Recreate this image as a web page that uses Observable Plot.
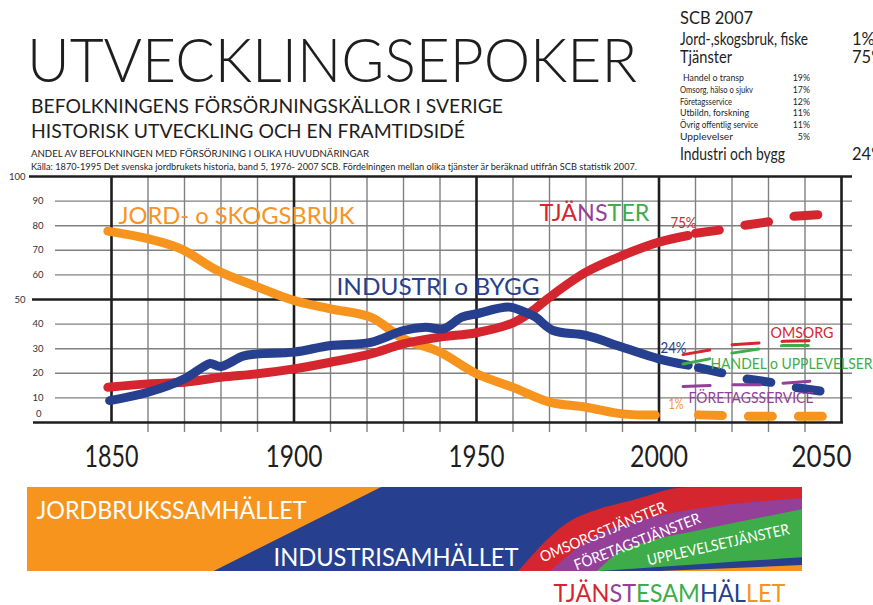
<!DOCTYPE html>
<html><head><meta charset="utf-8">
<script src="https://cdn.jsdelivr.net/npm/d3@7"></script>
<script src="https://cdn.jsdelivr.net/npm/@observablehq/plot@0.6"></script>
<style>
html,body{margin:0;padding:0;background:#fff;}
body{width:873px;height:605px;position:relative;overflow:hidden;}
.layer{position:absolute;left:0;}
svg{overflow:visible;}
</style></head>
<body>
<div id="header" class="layer" style="top:0"></div>
<div id="chart" class="layer" style="top:140px"></div>
<div id="band" class="layer" style="top:480px"></div>
<script>
const FONT = "Lato, 'Open Sans', sans-serif";
const ORANGE="#F7941D", BLUE="#263F8E", RED="#D5262F", PURPLE="#943F98", GREEN="#3EAD49", GRID="#808080", INK="#1e1e1e";

// ---------- data ----------
const agriYears  = [1849, 1860, 1869, 1879, 1889, 1900, 1910, 1921, 1930, 1940, 1950, 1960, 1970, 1980, 1990, 1999];
const agriShares = [77.8, 74.7, 70.6, 61.8, 55.7, 49.6, 46.2, 42.8, 34.0, 28.6, 19.8, 14.3, 8.3, 6.2, 3.5, 3.0];
const agriForecastYears  = [2010.8, 2025, 2045];
const agriForecastShares = [3.1, 2.5, 2.5];

const indYears  = [1849.5, 1860, 1870, 1875, 1877, 1880, 1886, 1890, 1900, 1910, 1921, 1930, 1936, 1941, 1946, 1950, 1959, 1963, 1966, 1971, 1980, 1990, 2000, 2008];
const indShares = [8.9, 12.3, 17.8, 22.5, 24.0, 22.8, 27.0, 27.9, 28.6, 31.3, 32.6, 37.4, 38.7, 38.1, 42.8, 44.2, 46.9, 45.0, 43.0, 37.4, 35.4, 30.6, 25.9, 23.3];
const indForecastYears  = [2010.8, 2018.4, 2023.4, 2032.2, 2037, 2045];
const indForecastShares = [22.3, 19.8, 17.8, 16.0, 14.3, 12.6];

const servYears  = [1849, 1860, 1870, 1880, 1890, 1900, 1910, 1921, 1930, 1940, 1950, 1960, 1965, 1970, 1980, 1990, 2000, 2008];
const servShares = [14.3, 15.7, 16.4, 18.4, 19.8, 21.8, 24.5, 27.9, 32.0, 34.7, 36.5, 40.5, 45.0, 50.9, 61.1, 67.9, 73.3, 76.0];
const servForecastYears  = [2010, 2017, 2023, 2031, 2036, 2045];
const servForecastShares = [76.9, 78.3, 80.1, 81.8, 83.7, 84.6];

const subYears = [2006.6, 2014, 2020, 2028, 2034, 2041.8];
const careShares     = [27.6, 29.5, 31.6, 32.4, 33.0, 33.3];
const tradeShares    = [23.8, 25.9, 28.2, 30.0, 31.3, 31.3];
const businessShares = [14.6, 15.0, 15.3, 15.3, 16.0, 16.8];

const yTicks = [100, 90, 80, 70, 60, 50, 40, 30, 20, 10, 0];
const minorY = [10, 20, 30, 40, 60, 70, 80, 90];
const majorX = [1850, 1900, 1950, 2000, 2050];
const minorX = d3.range(1860, 2050, 10).filter(d => d % 50 !== 0);
const xLabels = ["1850", "1900", "1950", "2000", "2050"];

const scbMainNames  = ["Jord-,skogsbruk, fiske", "Tjänster"];
const scbMainShares = ["1%", "75%"];
const serviceNames  = ["Handel o transp", "Omsorg, hälso o sjukv", "Företagsservice", "Utbildn, forskning", "Övrig offentlig service", "Upplevelser"];
const serviceShares = ["19%", "17%", "12%", "11%", "11%", "5%"];
const industryName = "Industri och bygg", industryShare = "24%";

// band shape edges (x: % of band length, y: % of band height)
const agriBandEdge   = [{x: 24.1, y: 0}, {x: 45.7, y: 100}];
const careBandEdge   = [{x: 63.4, y: 0}, {x: 70.3, y: 60.7}, {x: 72.2, y: 68.7}, {x: 78.2, y: 84.5}, {x: 85.1, y: 99.6}, {x: 100, y: 100}];
const businessBandEdge = [{x: 67.5, y: 0}, {x: 73.9, y: 44.9}, {x: 79.1, y: 60.7}, {x: 86.8, y: 74.6}, {x: 100, y: 86.5}];
const leisureBandEdge  = [{x: 73.5, y: 0}, {x: 76.5, y: 23}, {x: 80, y: 34.9}, {x: 86.8, y: 48.8}, {x: 100, y: 73.5}];
const industryStripEdge = [{x: 73.9, y: 0}, {x: 88, y: 9}, {x: 100, y: 16.3}];
const agriStripEdge     = [{x: 81.7, y: 0}, {x: 100, y: 7.1}];

// ---------- helpers ----------
const zip = (xs, ys) => xs.map((year, i) => ({year, share: ys[i]}));
const PX1850 = 111, PX2050 = 841, PY0 = 422, PY100 = 176;   // page layout of the grid
const yearAt = px => 1850 + (px - PX1850) * 200 / (PX2050 - PX1850);
const valAt  = py => (PY0 - py) * 100 / (PY0 - PY100);

function fitTexts(node, widths) {
  node.querySelectorAll("text").forEach(t => {
    const w = widths[t.textContent];
    if (w) { t.setAttribute("textLength", w); t.setAttribute("lengthAdjust", "spacingAndGlyphs"); }
  });
}
function colorize(node, str, colors) {
  node.querySelectorAll("text").forEach(t => {
    if (t.textContent === str) {
      t.textContent = "";
      [...str].forEach((ch, i) => {
        const ts = document.createElementNS("http://www.w3.org/2000/svg", "tspan");
        ts.setAttribute("fill", colors[i]); ts.textContent = ch; t.appendChild(ts);
      });
    }
  });
}

// ---------- header ----------
const hdr = d3.select("#header").append("svg").attr("width", 873).attr("height", 175).style("font-family", FONT);
function htext(x, y, str, size, width, opts = {}) {
  const t = hdr.append("text").attr("x", x).attr("y", y).attr("font-size", size)
    .attr("fill", opts.fill || INK).attr("font-weight", opts.weight || 400).text(str);
  if (opts.anchor) t.attr("text-anchor", opts.anchor);
  if (width) t.attr("textLength", width).attr("lengthAdjust", "spacingAndGlyphs");
  return t;
}
htext(27, 82, "UTVECKLINGSEPOKER", 61, 610, {weight: 300});
htext(31, 113, "BEFOLKNINGENS FÖRSÖRJNINGSKÄLLOR I SVERIGE", 19, 472);
htext(31, 138, "HISTORISK UTVECKLING OCH EN FRAMTIDSIDÉ", 19, 434);
htext(31, 157, "ANDEL AV BEFOLKNINGEN MED FÖRSÖRJNING I OLIKA HUVUDNÄRINGAR", 8.6, 338);
htext(31, 170, "Källa: 1870-1995 Det svenska jordbrukets historia, band 5, 1976- 2007 SCB. Fördelningen mellan olika tjänster är beräknad utifrån SCB statistik 2007.", 8.6, 606);

htext(680, 24, "SCB 2007", 18, 73);
const mainW = [128, 52];
scbMainNames.forEach((n, i) => {
  htext(680, 45 + i * 18, n, 16.5, mainW[i]);
  htext(852, 45 + i * 18, scbMainShares[i], 16.5, null);
});
const servW = [61, 73, 52, 69, 78, 53];
serviceNames.forEach((n, i) => {
  htext(i === 0 ? 683 : 680, 81 + i * 11.8, n, 8.8, servW[i]);
  htext(810, 81 + i * 11.8, serviceShares[i], 8.8, null, {anchor: "end"});
});
htext(680, 160, industryName, 16.5, 105);
htext(852, 160, industryShare, 16.5, null);

// ---------- main chart ----------
const chartLabels = [
  {text: "JORD- o SKOGSBRUK", px: 118, py: 223, size: 24, fill: ORANGE},
  {text: "INDUSTRI o BYGG", px: 336, py: 294, size: 24, fill: BLUE},
  {text: "TJÄNSTER", px: 539, py: 220, size: 24, fill: RED},
  {text: "75%", px: 670, py: 227, size: 15, fill: RED},
  {text: "24%", px: 660, py: 352, size: 15, fill: BLUE},
  {text: "1%", px: 668, py: 408, size: 15, fill: ORANGE},
  {text: "OMSORG", px: 770, py: 337, size: 15, fill: RED},
  {text: "HANDEL o UPPLEVELSER", px: 710, py: 368, size: 15, fill: GREEN},
  {text: "FÖRETAGSSERVICE", px: 688, py: 402, size: 15, fill: PURPLE}
];
const thick = 9;
const solid = (data, color) => Plot.line(data, {x: "year", y: "share", stroke: color, strokeWidth: thick, strokeLinecap: "round", strokeLinejoin: "round", curve: "catmull-rom"});
const dashed = (data, color) => Plot.line(data, {x: "year", y: "share", stroke: color, strokeWidth: thick, strokeLinecap: "round", strokeDasharray: "24,26", curve: "linear"});
const thin = (data, color) => Plot.line(data, {x: "year", y: "share", stroke: color, strokeWidth: 3, strokeDasharray: "27,23", curve: "linear"});

const chart = Plot.plot({
  width: 873, height: 330, marginTop: PY100 - 140, marginBottom: 140 + 330 - PY0, marginLeft: PX1850, marginRight: 873 - PX2050,
  style: {background: "none", fontFamily: FONT, overflow: "visible"},
  x: {domain: [1850, 2050], axis: null},
  y: {domain: [0, 100], axis: null},
  color: {type: "identity"},
  marks: [
    Plot.ruleY(minorY, {x1: yearAt(55), x2: yearAt(852), stroke: GRID, strokeWidth: 1.4}),
    Plot.ruleX(minorX, {y1: valAt(432), y2: 100, stroke: GRID, strokeWidth: 1.4}),
    Plot.ruleY([100], {x1: yearAt(29), x2: yearAt(852), stroke: INK, strokeWidth: 2.6}),
    Plot.ruleY([50], {x1: yearAt(32), x2: yearAt(852), stroke: INK, strokeWidth: 2.6}),
    Plot.ruleY([0], {x1: yearAt(33), x2: yearAt(843), stroke: INK, strokeWidth: 2.6}),
    Plot.ruleX(majorX, {y1: 0, y2: 100, stroke: INK, strokeWidth: 2.6}),
    Plot.text(yTicks, {x: d => yearAt(d === 0 ? 41 : d % 50 === 0 ? 25 : 43), y: d => d === 0 ? valAt(413) : d,
      text: d => String(d), textAnchor: "end", fontSize: 9.5, fill: "#333"}),
    Plot.text(xLabels.slice(0, 4), {x: d => +d, y: valAt(466), text: d => d, textAnchor: "middle", lineAnchor: "bottom", fontSize: 30, fill: INK}),
    Plot.text(xLabels.slice(4), {x: d => +d, y: valAt(466), text: d => d, textAnchor: "middle", lineAnchor: "bottom", dx: -20, fontSize: 30, fill: INK}),
    solid(zip(agriYears, agriShares), ORANGE),
    dashed(zip(agriForecastYears, agriForecastShares), ORANGE),
    solid(zip(servYears, servShares), RED),
    dashed(zip(servForecastYears, servForecastShares), RED),
    solid(zip(indYears, indShares), BLUE),
    dashed(zip(indForecastYears, indForecastShares), BLUE),
    thin(zip(subYears, careShares), RED),
    thin(zip(subYears, tradeShares), GREEN),
    thin(zip(subYears, businessShares), PURPLE),
    Plot.text(chartLabels, {x: d => yearAt(d.px), y: d => valAt(d.py), text: "text", fill: "fill", fontSize: "size", textAnchor: "start", lineAnchor: "bottom"})
  ]
});
document.getElementById("chart").appendChild(chart);
fitTexts(chart, {"JORD- o SKOGSBRUK": 236, "INDUSTRI o BYGG": 203, "TJÄNSTER": 110, "75%": 26, "24%": 26, "1%": 15,
  "OMSORG": 63, "HANDEL o UPPLEVELSER": 162, "FÖRETAGSSERVICE": 125,
  "1850": 54, "1900": 57, "1950": 56, "2000": 58, "2050": 60});
colorize(chart, "TJÄNSTER", [RED, RED, RED, PURPLE, PURPLE, GREEN, GREEN, GREEN]);

// ---------- era band ----------
const BX0 = 27, BX1 = 802, BY0 = 571, BY1 = 487; // page layout of the band
const bx = px => (px - BX0) * 100 / (BX1 - BX0);
const by = py => (BY0 - py) * 100 / (BY0 - BY1);
const bandLabels = [
  {text: "JORDBRUKSSAMHÄLLET", px: 36, py: 518, rot: 0, size: 25},
  {text: "INDUSTRISAMHÄLLET", px: 273, py: 565, rot: 0, size: 25},
  {text: "OMSORGSTJÄNSTER", px: 542, py: 562, rot: -22.5, size: 15},
  {text: "FÖRETAGSTJÄNSTER", px: 576, py: 570, rot: -21, size: 15},
  {text: "UPPLEVELSETJÄNSTER", px: 648, py: 565, rot: -12.6, size: 15}
];
const band = Plot.plot({
  width: 873, height: 125, marginTop: BY1 - 480, marginBottom: 480 + 125 - BY0, marginLeft: BX0, marginRight: 873 - BX1,
  style: {background: "none", fontFamily: FONT, overflow: "visible"},
  x: {domain: [0, 100], axis: null},
  y: {domain: [0, 100], axis: null},
  marks: [
    Plot.rect([{x1: 0, x2: 100, y1: 0, y2: 100}], {x1: "x1", x2: "x2", y1: "y1", y2: "y2", fill: BLUE, inset: 0}),
    Plot.areaX(agriBandEdge, {y: "y", x1: 0, x2: "x", fill: ORANGE}),
    Plot.areaY(careBandEdge, {x: "x", y1: 0, y2: "y", fill: RED, curve: "monotone-x"}),
    Plot.areaY(businessBandEdge, {x: "x", y1: 0, y2: "y", fill: PURPLE, curve: "monotone-x"}),
    Plot.areaY(leisureBandEdge, {x: "x", y1: 0, y2: "y", fill: GREEN, curve: "monotone-x"}),
    Plot.areaY(industryStripEdge, {x: "x", y1: 0, y2: "y", fill: BLUE, curve: "monotone-x"}),
    Plot.areaY(agriStripEdge, {x: "x", y1: 0, y2: "y", fill: ORANGE}),
    Plot.text(bandLabels, {x: d => bx(d.px), y: d => by(d.py), text: "text", rotate: "rot", fontSize: "size", fill: "white", textAnchor: "start", lineAnchor: "bottom"}),
    Plot.text(["TJÄNSTESAMHÄLLET"], {x: bx(553), y: by(601.5), text: d => d, fontSize: 25, fill: RED, textAnchor: "start", lineAnchor: "bottom"})
  ]
});
document.getElementById("band").appendChild(band);
fitTexts(band, {"JORDBRUKSSAMHÄLLET": 270, "INDUSTRISAMHÄLLET": 245, "OMSORGSTJÄNSTER": 135, "FÖRETAGSTJÄNSTER": 134, "UPPLEVELSETJÄNSTER": 145, "TJÄNSTESAMHÄLLET": 232});
colorize(band, "TJÄNSTESAMHÄLLET", [RED, RED, RED, RED, PURPLE, PURPLE, GREEN, GREEN, GREEN, GREEN, BLUE, BLUE, BLUE, ORANGE, ORANGE, ORANGE]);
</script>
</body></html>
